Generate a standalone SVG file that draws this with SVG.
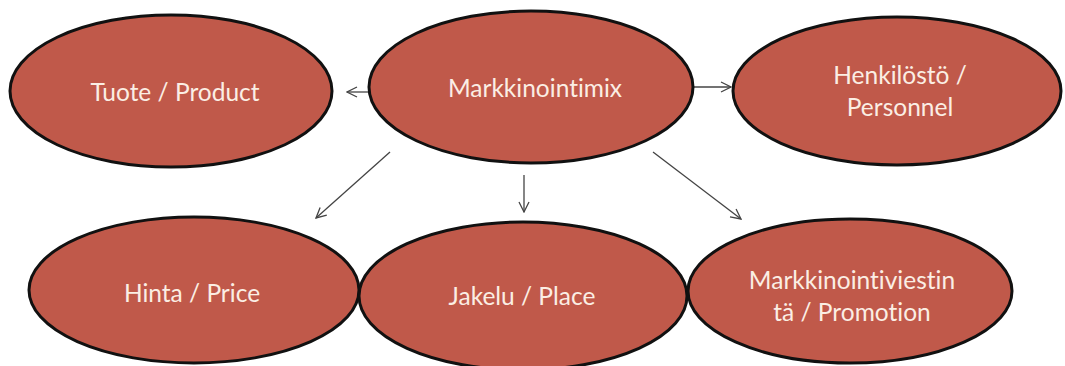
<svg xmlns="http://www.w3.org/2000/svg" width="1065" height="366" viewBox="0 0 1065 366">
<style>
.n ellipse{fill:#c0594a;stroke:#111;stroke-width:3}
.n text{font-family:Lato,"Open Sans",sans-serif;font-size:24.5px;fill:#fbeee4;text-anchor:middle;font-variant-ligatures:none}
.c line{stroke:#444;stroke-width:1.3;fill:none;marker-end:url(#ah)}
</style>
<defs>
<marker id="ah" viewBox="0 0 12 12" refX="11" refY="6" markerWidth="12" markerHeight="12" markerUnits="userSpaceOnUse" orient="auto">
<path d="M1,1 L11,6 L1,11" fill="none" stroke="#444" stroke-width="1.3"/>
</marker>
</defs>
<rect width="1065" height="366" fill="#fff"/>
<g class="c">
<line x1="370" y1="92" x2="347" y2="92"/>
<line x1="693" y1="87" x2="731" y2="87"/>
<line x1="390" y1="152" x2="316" y2="218"/>
<line x1="524" y1="175" x2="524" y2="212"/>
<line x1="653" y1="152" x2="741" y2="219"/>
</g>
<g id="tuote" class="n"><ellipse cx="171" cy="91" rx="161" ry="76"/><text x="175" y="101">Tuote / Product</text></g>
<g id="mix" class="n"><ellipse cx="531" cy="87" rx="162" ry="76"/><text x="535" y="97">Markkinointimix</text></g>
<g id="henkilosto" class="n"><ellipse cx="897" cy="91" rx="164" ry="74"/><text x="900" y="84">Henkilöstö /</text><text x="900" y="116">Personnel</text></g>
<g id="hinta" class="n"><ellipse cx="194" cy="290" rx="165" ry="73"/><text x="192" y="302">Hinta / Price</text></g>
<g id="jakelu" class="n"><ellipse cx="523" cy="296" rx="164" ry="74"/><text x="522" y="305">Jakelu / Place</text></g>
<g id="promotion" class="n"><ellipse cx="850" cy="291" rx="162" ry="72"/><text x="852" y="289">Markkinointiviestin</text><text x="852" y="321">tä / Promotion</text></g>
</svg>
